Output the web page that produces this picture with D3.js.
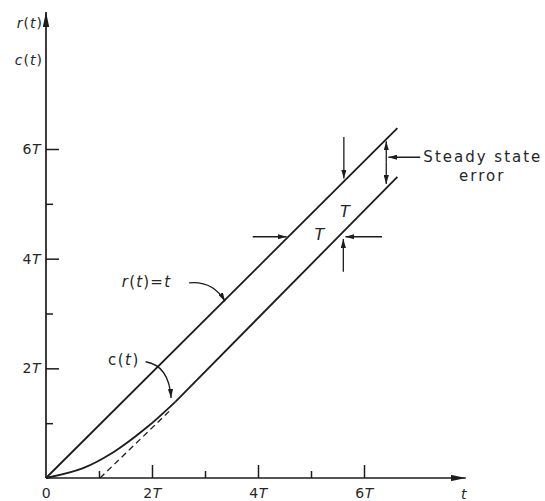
<!DOCTYPE html>
<html>
<head>
<meta charset="utf-8">
<script src="https://cdn.jsdelivr.net/npm/d3@7"></script>
<style>
  html, body { margin: 0; padding: 0; background: #fff; }
  svg { display: block; }
  text { font-family: "DejaVu Sans", sans-serif; fill: #262626; }
</style>
</head>
<body>
<div id="chart"></div>
<script>
// ---------- data (in units of T) ----------
const xMajorTicks = [0, 2, 4, 6];
const xMinorTicks = [1, 3, 5];
const yMajorTicks = [2, 4, 6];
const yMinorTicks = [1, 3, 5];
const rLine = [[0, 0], [6.63, 6.38]];                 // r(t) = t
const cCurve = [[0, 0], [0.7, 0.18], [1.27, 0.47], [1.91, 0.93], [2.44, 1.39]]; // transient part
const cStraight = [[2.44, 1.39], [6.63, 5.49]];       // steady-state part
const cAsymptote = [[1.02, 0], [2.35, 1.24]];         // dashed extension
const axisEnds = { x: 7.92, y: 8.5 };

// ---------- layout ----------
const W = 545, H = 501;
const x = d3.scaleLinear().domain([0, 6]).range([46, 364]);
const y = d3.scaleLinear().domain([0, 6]).range([478, 149]);
const ink = "#1c1c1c";

const svg = d3.select("#chart").append("svg").attr("width", W).attr("height", H);
const defs = svg.append("defs");
function marker(id, len, half) {
  defs.append("marker").attr("id", id)
    .attr("viewBox", `${-len} ${-half} ${len} ${half * 2}`)
    .attr("refX", 0).attr("refY", 0)
    .attr("markerWidth", len).attr("markerHeight", half * 2)
    .attr("markerUnits", "userSpaceOnUse")
    .attr("orient", "auto-start-reverse")
    .append("path").attr("d", `M0,0 L${-len},${-half} L${-len},${half} Z`).attr("fill", ink);
}
marker("arr", 9, 2.6);
marker("axarr", 15, 3.2);

// ---------- axes ----------
svg.append("line").attr("x1", x(0)).attr("y1", y(0)).attr("x2", x(0)).attr("y2", y(axisEnds.y))
  .attr("stroke", ink).attr("stroke-width", 1.7).attr("marker-end", "url(#axarr)");
svg.append("line").attr("x1", x(0)).attr("y1", y(0)).attr("x2", x(axisEnds.x)).attr("y2", y(0))
  .attr("stroke", ink).attr("stroke-width", 1.7).attr("marker-end", "url(#axarr)");

function fmtT(sel) {
  sel.each(function(d) {
    const t = d3.select(this).text(null);
    if (d === 0) { t.text("0"); return; }
    t.append("tspan").text(d);
    t.append("tspan").attr("font-style", "italic").text("T");
  });
}

const yAxisMajor = svg.append("g").attr("transform", `translate(${x(0)},0)`)
  .call(d3.axisLeft(y).tickValues(yMajorTicks).tickSizeInner(-13).tickSizeOuter(0).tickPadding(5));
const yAxisMinor = svg.append("g").attr("transform", `translate(${x(0)},0)`)
  .call(d3.axisLeft(y).tickValues(yMinorTicks).tickSizeInner(-7).tickSizeOuter(0).tickFormat(""));
const xAxisMajor = svg.append("g").attr("transform", `translate(0,${y(0)})`)
  .call(d3.axisBottom(x).tickValues(xMajorTicks).tickSizeInner(-13).tickSizeOuter(0).tickPadding(10));
const xAxisMinor = svg.append("g").attr("transform", `translate(0,${y(0)})`)
  .call(d3.axisBottom(x).tickValues(xMinorTicks).tickSizeInner(-7).tickSizeOuter(0).tickFormat(""));

[yAxisMajor, yAxisMinor, xAxisMajor, xAxisMinor].forEach(g => {
  g.select(".domain").remove();
  g.selectAll("line").attr("stroke", ink).attr("stroke-width", 1.5);
  g.selectAll("text").attr("font-size", 14).attr("fill", "#262626").attr("letter-spacing", 0.5)
    .attr("font-family", "DejaVu Sans, sans-serif");
});
yAxisMajor.selectAll(".tick text").call(fmtT);
xAxisMajor.selectAll(".tick text").call(fmtT);
xAxisMajor.selectAll(".tick").filter(d => d === 0).select("line").remove();

// axis labels
function varLabel(name, px, py, anchor) {
  const t = svg.append("text").attr("x", px).attr("y", py).attr("font-size", 14).attr("letter-spacing", 1)
    .attr("text-anchor", anchor).attr("dominant-baseline", "central");
  t.append("tspan").attr("font-style", "italic").text(name);
  t.append("tspan").text("(");
  t.append("tspan").attr("font-style", "italic").text("t");
  t.append("tspan").text(")");
  return t;
}
varLabel("r", x(0) - 3, y(8.3), "end");
varLabel("c", x(0) - 3, y(7.62), "end");
svg.append("text").attr("x", x(7.88)).attr("y", y(0) + 16).attr("font-size", 14)
  .attr("font-style", "italic").attr("text-anchor", "middle").attr("dominant-baseline", "central").text("t");

// ---------- curves ----------
const line = d3.line().x(d => x(d[0])).y(d => y(d[1]));
const smooth = d3.line().x(d => x(d[0])).y(d => y(d[1])).curve(d3.curveCatmullRom);
svg.append("path").attr("d", line(rLine)).attr("fill", "none").attr("stroke", ink).attr("stroke-width", 1.8);
svg.append("path").attr("d", smooth(cCurve)).attr("fill", "none").attr("stroke", ink).attr("stroke-width", 1.8);
svg.append("path").attr("d", line(cStraight)).attr("fill", "none").attr("stroke", ink).attr("stroke-width", 1.8);
svg.append("path").attr("d", line(cAsymptote)).attr("fill", "none").attr("stroke", ink)
  .attr("stroke-width", 1.3).attr("stroke-dasharray", "6,4");

// ---------- annotations (data units) ----------
const P = (t, v) => [x(t), y(v)];
function arrow(a, b, both) {
  const l = svg.append("line").attr("x1", x(a[0])).attr("y1", y(a[1])).attr("x2", x(b[0])).attr("y2", y(b[1]))
    .attr("stroke", ink).attr("stroke-width", 1.3).attr("marker-end", "url(#arr)");
  if (both) l.attr("marker-start", "url(#arr)");
}
function curvedArrow(a, c, b) {
  const [ax, ay] = P(...a), [cx, cy] = P(...c), [bx, by] = P(...b);
  svg.append("path").attr("d", `M${ax},${ay} Q${cx},${cy} ${bx},${by}`).attr("fill", "none")
    .attr("stroke", ink).attr("stroke-width", 1.3).attr("marker-end", "url(#arr)");
}

// r(t) = t label
const rl = svg.append("text").attr("x", x(1.43)).attr("y", y(3.57)).attr("font-size", 15)
  .attr("letter-spacing", 1.2).attr("dominant-baseline", "central");
rl.append("tspan").attr("font-style", "italic").text("r");
rl.append("tspan").text("(");
rl.append("tspan").attr("font-style", "italic").text("t");
rl.append("tspan").text(")=");
rl.append("tspan").attr("font-style", "italic").text("t");
curvedArrow([2.7, 3.56], [3.15, 3.6], [3.38, 3.22]);

// c(t) label
const cl = svg.append("text").attr("x", x(1.17)).attr("y", y(2.15)).attr("font-size", 15)
  .attr("letter-spacing", 1.5).attr("dominant-baseline", "central");
cl.append("tspan").text("c(");
cl.append("tspan").attr("font-style", "italic").text("t");
cl.append("tspan").text(")");
curvedArrow([1.88, 2.12], [2.32, 2.05], [2.36, 1.46]);

// T offset markers
arrow([5.62, 6.22], [5.62, 5.46]);
arrow([5.61, 3.76], [5.61, 4.36]);
arrow([3.9, 4.4], [4.54, 4.4]);
arrow([6.34, 4.4], [5.65, 4.4]);
svg.append("text").attr("x", x(5.64)).attr("y", y(4.86)).attr("font-size", 16).attr("font-style", "italic")
  .attr("text-anchor", "middle").attr("dominant-baseline", "central").text("T");
svg.append("text").attr("x", x(5.16)).attr("y", y(4.44)).attr("font-size", 16).attr("font-style", "italic")
  .attr("text-anchor", "middle").attr("dominant-baseline", "central").text("T");

// steady state error
arrow([6.42, 5.75], [6.42, 6.14], false);
arrow([6.42, 5.75], [6.42, 5.36], false);
arrow([7.06, 5.85], [6.46, 5.85]);
svg.append("text").attr("x", x(7.12)).attr("y", y(5.85)).attr("font-size", 15).attr("letter-spacing", 2)
  .attr("dominant-baseline", "central").text("Steady state");
svg.append("text").attr("x", x(8.23)).attr("y", y(5.51)).attr("font-size", 15).attr("letter-spacing", 2)
  .attr("text-anchor", "middle").attr("dominant-baseline", "central").text("error");
</script>
</body>
</html>
